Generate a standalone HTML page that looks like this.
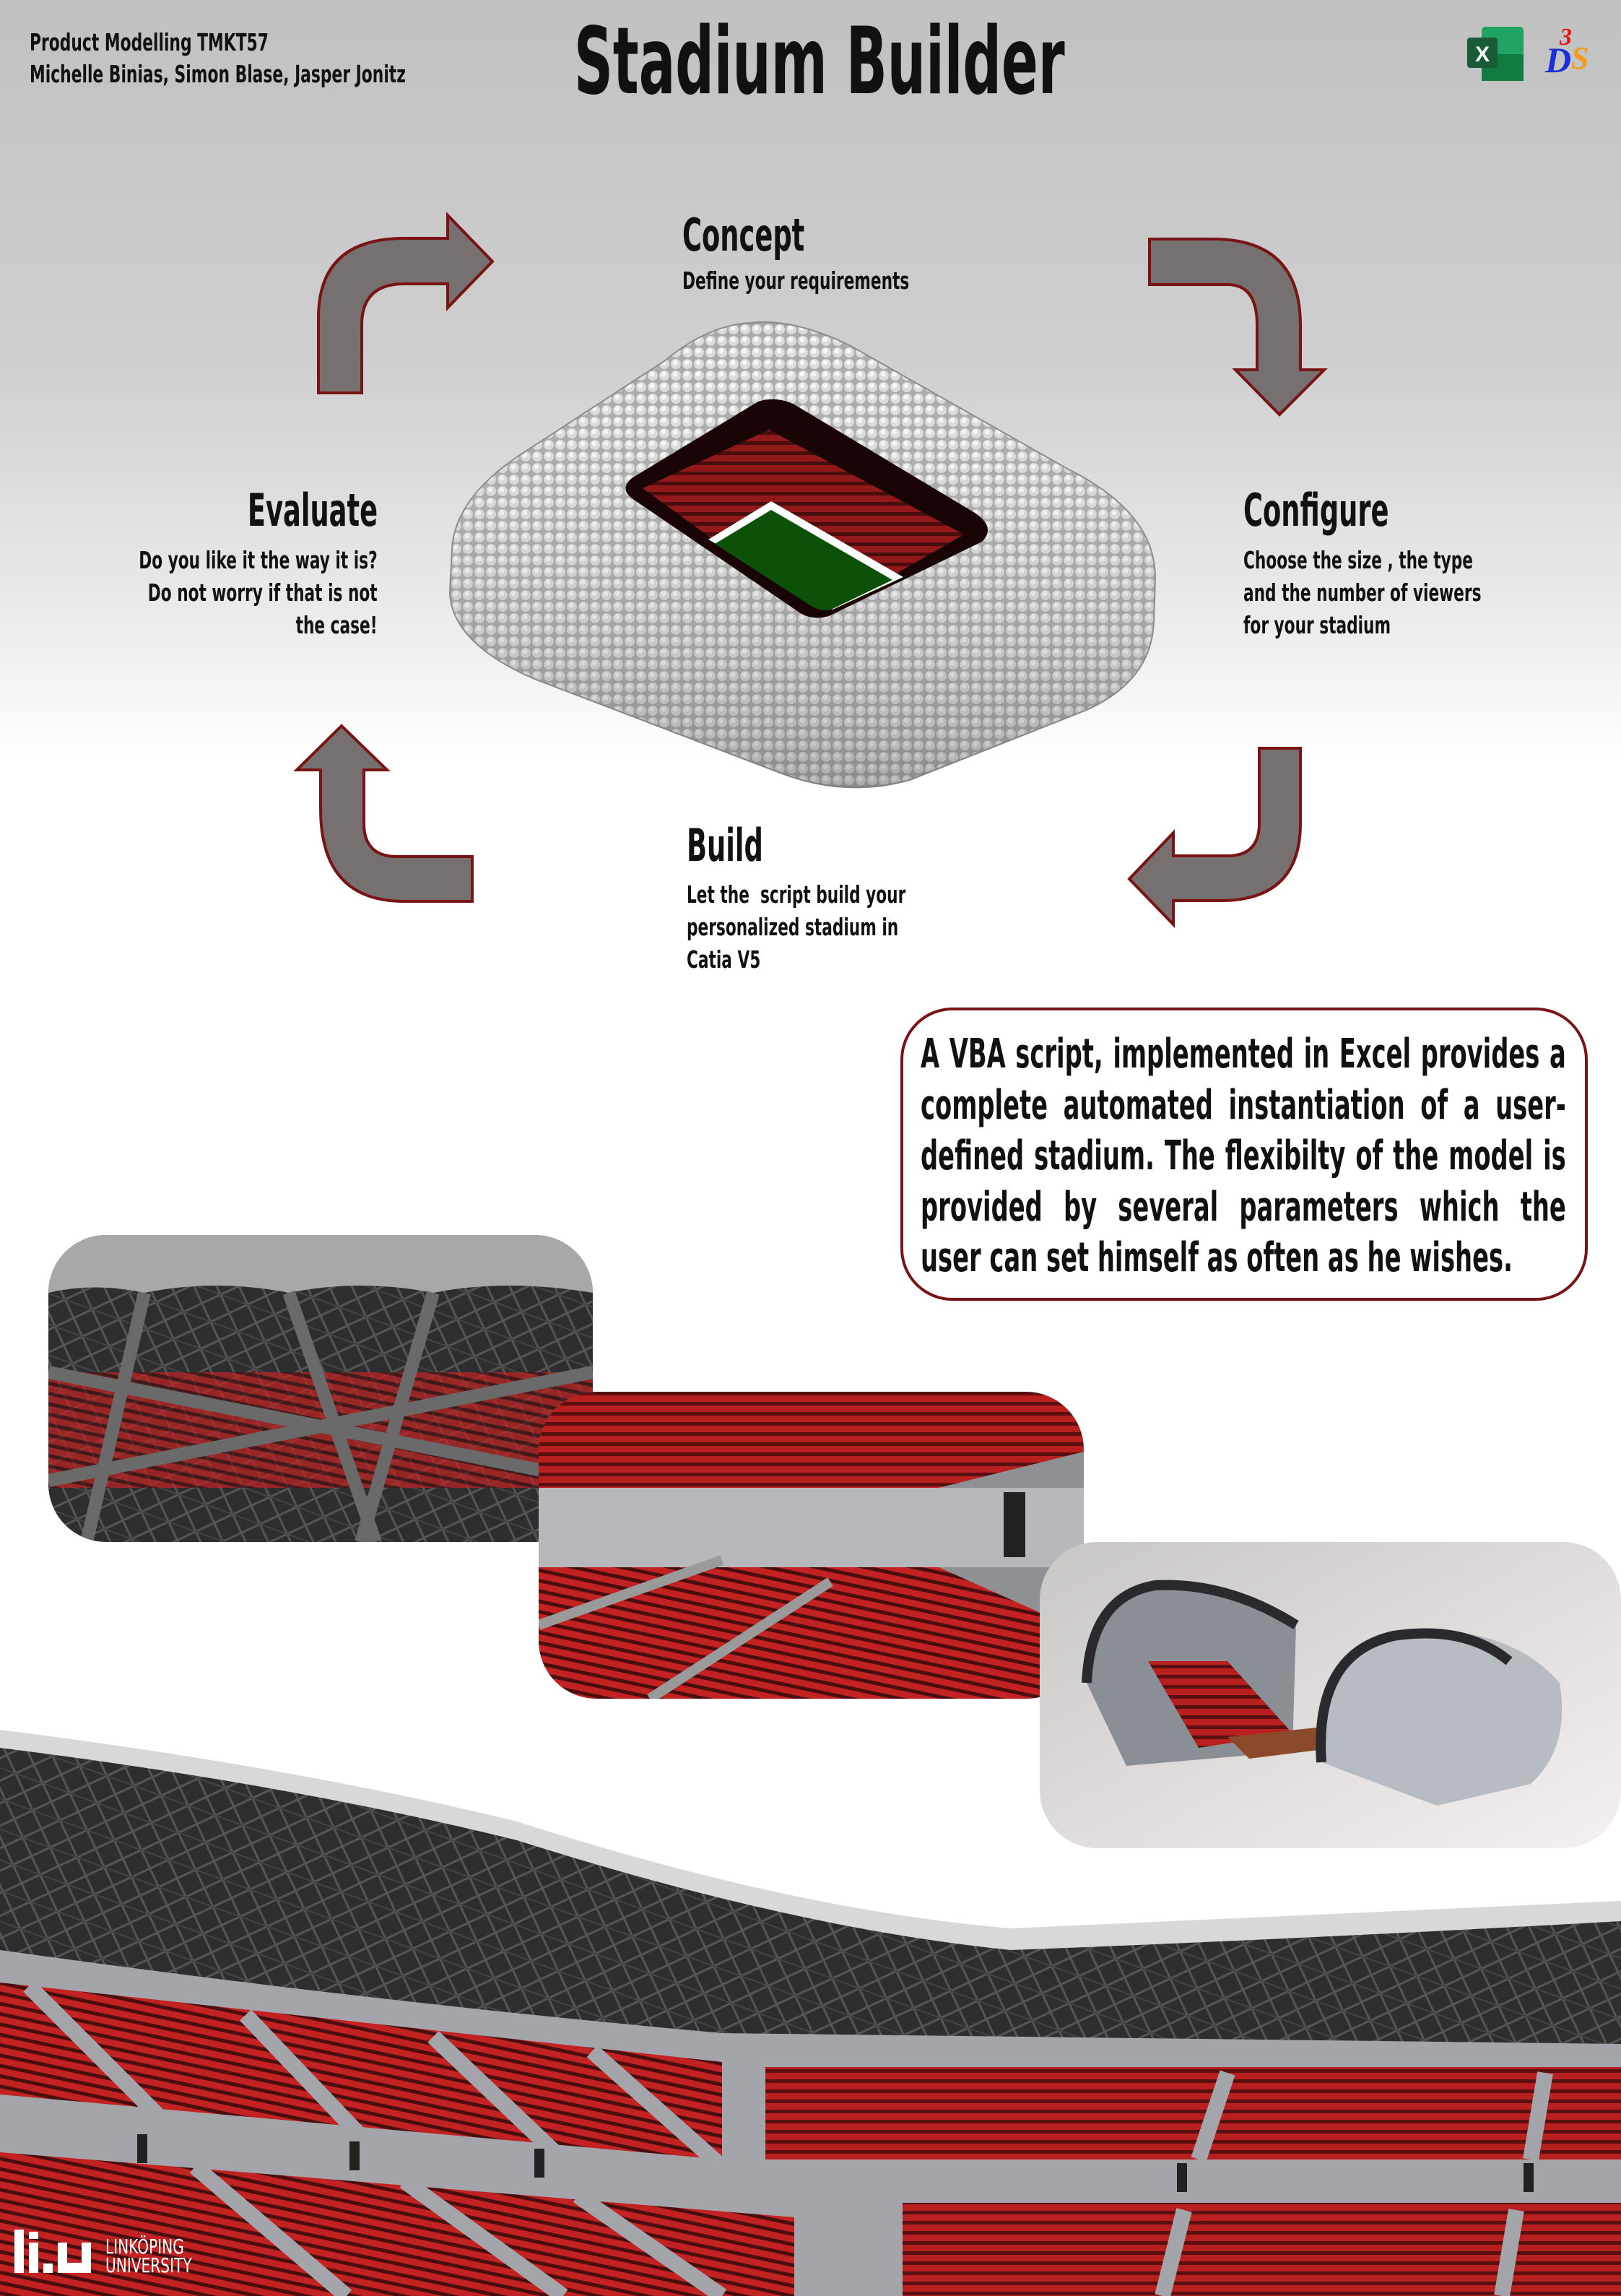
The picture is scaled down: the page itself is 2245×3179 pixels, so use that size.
<!DOCTYPE html>
<html><head><meta charset="utf-8">
<style>
html,body{margin:0;padding:0}
body{width:2245px;height:3179px;position:relative;overflow:hidden;background:linear-gradient(#c1c1c1 0px,#cfcfcf 500px,#efefef 900px,#fff 1050px,#fff 100%);font-family:"DejaVu Sans Condensed","DejaVu Sans","Liberation Sans",sans-serif;font-weight:bold;color:#111}
.t{position:absolute;transform:scaleX(.66);transform-origin:0 0;white-space:nowrap;line-height:1}
.s{transform:scaleX(.73)}
.r{transform-origin:100% 0;text-align:right}
svg{position:absolute;left:0;top:0}
</style></head><body>
<svg width="2245" height="3179" viewBox="0 0 2245 3179">
<defs>
<pattern id="seat" width="14" height="14" patternUnits="userSpaceOnUse"><rect width="14" height="14" fill="#b81f1f"/><rect y="9" width="14" height="5" fill="#5a1010"/></pattern>
<pattern id="seatd" width="14" height="14" patternUnits="userSpaceOnUse" patternTransform="rotate(12)"><rect width="14" height="14" fill="#c22222"/><rect y="9" width="14" height="5" fill="#4a0e0e"/></pattern>
<pattern id="truss" width="40" height="40" patternUnits="userSpaceOnUse" patternTransform="rotate(20)"><rect width="40" height="40" fill="#2e2e30"/><path d="M0 0L40 40M40 0L0 40" stroke="#555" stroke-width="3"/><path d="M0 20H40" stroke="#444" stroke-width="2"/></pattern>
<pattern id="bub" width="16" height="16" patternUnits="userSpaceOnUse"><rect width="16" height="16" fill="#a9a9a9"/><circle cx="8" cy="8" r="7" fill="#dcdcdc"/><circle cx="7" cy="6" r="3.5" fill="#f7f7f7"/></pattern>
<linearGradient id="sh" x1="0" y1="0" x2="0" y2="1"><stop offset="0" stop-color="#fff" stop-opacity="0"/><stop offset="1" stop-color="#555" stop-opacity=".35"/></linearGradient>
<clipPath id="c1"><rect x="67" y="1710" width="754" height="425" rx="80"/></clipPath>
<clipPath id="c2"><rect x="746" y="1927" width="755" height="425" rx="80"/></clipPath>
<clipPath id="c3"><rect x="1440" y="2135" width="805" height="424" rx="80"/></clipPath>
<linearGradient id="p3" x1="0" y1="0" x2="1" y2="1"><stop offset="0" stop-color="#c9c6c6"/><stop offset=".6" stop-color="#e4e0e0"/><stop offset="1" stop-color="#f6f0f0"/></linearGradient>
</defs>

<g fill="#767070" stroke="#7a1414" stroke-width="4" stroke-linejoin="miter">
<path d="M441,544 L441,440 Q441,330 560,330 L620,330 L620,298 L682,362 L620,426 L620,393 L560,393 Q501,393 501,450 L501,544 Z"/>
<path d="M1592,331 L1680,331 Q1801,331 1801,450 L1801,512 L1834,512 L1772,574 L1711,512 L1741,512 L1741,450 Q1741,394 1700,394 L1592,394 Z"/>
<path d="M473,1005 L536,1066 L504,1066 L504,1140 Q504,1186 550,1186 L654,1186 L654,1248 L560,1248 Q444,1248 444,1120 L444,1066 L411,1066 Z"/>
<path d="M1744,1036 L1801,1036 L1801,1140 Q1801,1247 1690,1247 L1625,1247 L1625,1280 L1564,1217 L1625,1153 L1625,1185 L1700,1185 Q1744,1185 1744,1140 Z"/>
</g>

<path d="M1040,447 Q1100,440 1180,480 L1480,650 Q1600,710 1600,800 L1598,860 Q1595,945 1500,985 L1260,1080 Q1170,1105 1080,1070 L740,940 Q625,890 623,820 L626,760 Q630,690 720,630 L920,500 Q980,450 1040,447 Z" fill="url(#bub)" stroke="#8a8a8a" stroke-width="2"/>
<path d="M1040,447 Q1100,440 1180,480 L1480,650 Q1600,710 1600,800 L1598,860 Q1595,945 1500,985 L1260,1080 Q1170,1105 1080,1070 L740,940 Q625,890 623,820 L626,760 Q630,690 720,630 L920,500 Q980,450 1040,447 Z" fill="url(#sh)"/>
<path d="M1050,556 Q1075,548 1100,560 L1350,710 Q1380,730 1360,750 L1150,852 Q1130,860 1110,850 L875,690 Q858,676 875,662 Z" fill="#1a0506"/>
<path d="M1065,595 L1335,740 L1240,795 L1068,694 L985,745 L890,676 Z" fill="url(#seat)" opacity=".75"/>
<path d="M1068,694 L1251,799 L1153,844 L981,747 Z" fill="#fff"/>
<path d="M1068,706 L1236,803 L1153,843 Q1140,848 1125,840 L990,753 Z" fill="#0b5208"/>

<g clip-path="url(#c1)">
<rect x="67" y="1710" width="754" height="425" fill="url(#truss)"/>
<rect x="67" y="1900" width="754" height="160" fill="url(#seatd)" opacity=".7"/>
<path d="M67,1710 H821 V1790 Q700,1770 600,1790 Q500,1770 400,1790 Q300,1770 200,1790 Q130,1775 67,1790 Z" fill="#a8a8a8"/>
<path d="M67,1900 L821,2050 M67,2050 L821,1900 M200,1790 L120,2135 M400,1790 L520,2135 M600,1790 L500,2135" stroke="#6a6a6a" stroke-width="18"/>
</g>
<g clip-path="url(#c2)">
<rect x="746" y="1927" width="755" height="425" fill="#8f9094"/>
<path d="M746,1927 H1501 V2010 L1300,2060 H746 Z" fill="url(#seat)"/>
<rect x="746" y="2060" width="755" height="110" fill="#b7b8bc"/>
<path d="M746,2170 H1300 L1501,2260 V2352 H746 Z" fill="url(#seatd)"/>
<path d="M746,2250 L1000,2160 M900,2352 L1150,2190" stroke="#9a9a9a" stroke-width="14"/>
<rect x="1390" y="2066" width="30" height="90" fill="#222"/>
</g>
<g clip-path="url(#c3)">
<rect x="1440" y="2135" width="805" height="424" fill="url(#p3)"/>
<path d="M1505,2330 Q1510,2210 1600,2195 Q1700,2190 1795,2250 L1790,2425 L1560,2445 Z" fill="#8a8f96"/>
<path d="M1505,2330 Q1510,2210 1600,2195 Q1700,2190 1795,2250" fill="none" stroke="#2a2a2e" stroke-width="14"/>
<path d="M1590,2300 L1700,2300 L1790,2400 L1660,2420 Z" fill="url(#seat)"/>
<path d="M1700,2405 L1890,2385 L1930,2410 L1730,2435 Z" fill="#8b4b2a"/>
<path d="M1830,2440 Q1820,2290 1930,2265 Q2080,2240 2160,2330 Q2175,2420 2120,2470 L1990,2500 Z" fill="#b7bbc2"/>
<path d="M1830,2440 Q1820,2290 1930,2265 Q2030,2250 2090,2300" fill="none" stroke="#2a2a2e" stroke-width="14"/>
</g>

<rect x="0" y="2694" width="2245" height="485" fill="#a4a5aa"/>
<path d="M0,2403 Q400,2450 716,2530 Q1100,2650 1400,2680 Q1800,2660 2245,2640 L2245,2830 L1000,2815 Q500,2770 0,2700 Z" fill="url(#truss)"/>
<path d="M0,2395 Q400,2445 716,2522 Q1100,2645 1400,2670 Q1800,2652 2245,2632 L2245,2660 Q1800,2685 1400,2700 Q1100,2670 716,2548 Q400,2470 0,2420 Z" fill="#d8d8d8"/>
<path d="M0,2745 L1000,2855 L1000,2990 L0,2900 Z" fill="url(#seatd)"/>
<path d="M1060,2862 H2245 V2990 H1060 Z" fill="url(#seat)"/>
<path d="M0,2980 L1100,3070 L1100,3179 L0,3179 Z" fill="url(#seatd)"/>
<path d="M1250,3050 H2245 V3179 H1250 Z" fill="url(#seat)"/>
<g stroke="#a4a5aa" stroke-width="22">
<path d="M40,2750 L250,2960 M340,2790 L540,3000 M600,2820 L800,3010 M820,2840 L1000,3000 M1700,2870 L1660,2990 M2140,2870 L2120,2990"/>
<path d="M270,3000 L480,3179 M560,3020 L780,3179 M800,3040 L1000,3179 M1640,3060 L1610,3179 M2100,3060 L2080,3179"/>
</g>
<g fill="#222"><rect x="190" y="2955" width="14" height="40"/><rect x="484" y="2965" width="14" height="40"/><rect x="740" y="2975" width="14" height="40"/><rect x="1630" y="2995" width="14" height="40"/><rect x="2110" y="2995" width="14" height="40"/></g>

<rect x="2052" y="37" width="58" height="75" rx="5" fill="#21a366"/>
<rect x="2052" y="75" width="58" height="37" fill="#107c41"/>
<rect x="2032" y="52" width="42" height="42" rx="4" fill="#185c37"/>
<text x="2053" y="85" font-family="Liberation Sans,sans-serif" font-weight="bold" font-size="30" fill="#fff" text-anchor="middle">X</text>
<text x="2140" y="100" font-family="Liberation Serif,serif" font-style="italic" font-size="50" fill="#1a2fd6">D</text>
<text x="2176" y="95" font-family="Liberation Serif,serif" font-style="italic" font-size="44" fill="#f29a1a">S</text>
<text x="2160" y="62" font-family="Liberation Serif,serif" font-style="italic" font-size="34" fill="#e0141a">3</text>

<rect x="1249" y="1397" width="948" height="402" rx="70" fill="#fff" stroke="#7a1414" stroke-width="4"/>

<g fill="#fff"><rect x="20" y="3087" width="13" height="60"/><rect x="40" y="3105" width="13" height="42"/><rect x="40" y="3090" width="13" height="10"/><rect x="60" y="3134" width="13" height="13"/><path d="M80,3105 h13 v28 h20 v-28 h13 v42 h-46 z"/></g>
</svg>

<div class="t" style="left:41px;top:42px;font-size:33px;transform:scaleX(.735)">Product Modelling TMKT57</div>
<div class="t" style="left:41px;top:86px;font-size:33px;transform:scaleX(.735)">Michelle Binias, Simon Blase, Jasper Jonitz</div>
<div class="t" style="left:795px;top:22px;font-size:128px;transform:scaleX(.65)">Stadium Builder</div>

<div class="t" style="left:945px;top:295px;font-size:62px">Concept</div>
<div class="t s" style="left:945px;top:372px;font-size:33px">Define your requirements</div>

<div class="t r" style="right:1722px;top:676px;font-size:62px">Evaluate</div>
<div class="t r s" style="right:1722px;top:753px;font-size:33px;line-height:45px">Do you like it the way it is?<br>Do not worry if that is not<br>the case!</div>

<div class="t" style="left:1722px;top:676px;font-size:62px">Configure</div>
<div class="t s" style="left:1722px;top:753px;font-size:33px;line-height:45px">Choose the size , the type<br>and the number of viewers<br>for your stadium</div>

<div class="t" style="left:951px;top:1140px;font-size:62px">Build</div>
<div class="t s" style="left:951px;top:1216px;font-size:33px;line-height:45px">Let the&nbsp; script build your<br>personalized stadium in<br>Catia V5</div>

<div class="t" style="left:1275px;top:1425px;font-size:56px;line-height:70.5px;white-space:normal;width:1334px;text-align:justify;text-align-last:left;transform:scaleX(.67)">A VBA script, implemented in Excel provides a complete automated instantiation of a user-defined stadium. The flexibilty of the model is provided by several parameters which the user can set himself as often as he wishes.</div>

<div class="t" style="left:146px;top:3098px;font-size:28px;font-weight:normal;color:#fff;line-height:26px;transform:scaleX(.8)">LINKÖPING<br>UNIVERSITY</div>
</body></html>
